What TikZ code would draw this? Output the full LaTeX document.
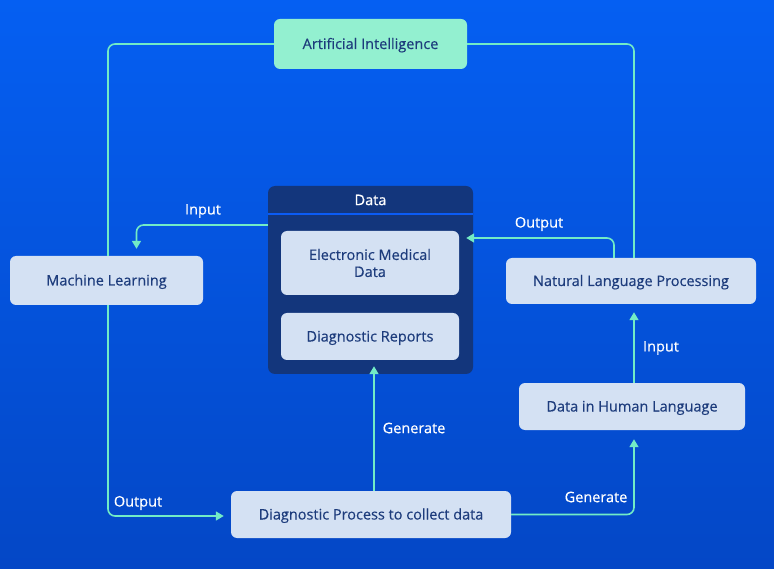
\documentclass[tikz,border=0pt]{standalone}
\usepackage{fontspec}
\setmainfont{Open Sans}[BoldFont={Open Sans}, BoldFeatures={FakeBold=0.35}]
\usetikzlibrary{positioning,arrows.meta,calc}

\definecolor{bgtop}{HTML}{055FF2}
\definecolor{bgbot}{HTML}{0447C6}
\definecolor{mint}{HTML}{72EBC6}
\definecolor{aifill}{HTML}{93F0D0}
\definecolor{boxfill}{HTML}{D4E1F3}
\definecolor{navy}{HTML}{13367C}
\definecolor{ink}{HTML}{1D3C7C}
\definecolor{sepblue}{HTML}{0B5CF5}

\tikzset{
  box/.style={rounded corners=6pt, fill=boxfill, text=ink, font=\fontsize{14.5}{17}\selectfont\bfseries, align=center},
  onel/.style={box, text height=12pt, text depth=2pt},
  link/.style={draw=mint, line width=1.6pt, rounded corners=7pt},
  arr/.style={link, -{Triangle[width=9pt,length=8pt]}, shorten >=7pt},
  lbl/.style={text=white, font=\fontsize{14.5}{17}\selectfont\bfseries}
}

\begin{document}
\begin{tikzpicture}[x=1pt,y=-1pt]
      \shade[top color=bgtop, bottom color=bgbot] (0,0) rectangle (774,569);
      \useasboundingbox (0,0) rectangle (774,569);

      % boxes
      \node[onel, fill=aifill, minimum width=193pt, minimum height=50pt] (ai) at (370.5,44) {Artificial Intelligence};
      \node[rounded corners=7pt, fill=navy, minimum width=205pt, minimum height=188pt] (data) at (370.5,280) {};
      \node[text=white, font=\fontsize{14.5}{17}\selectfont\bfseries] (datatitle) at (370.5,200) {Data};
      \draw[sepblue, line width=2pt] (data.west |- 0,214) -- (data.east |- 0,214);
      \node[box, minimum width=178pt, minimum height=64pt] (emd) at (370,263) {Electronic Medical\\Data};
      \node[onel, minimum width=178pt, minimum height=47pt] (dr) at (370,336.5) {Diagnostic Reports};
      \node[onel, minimum width=193pt, minimum height=49pt] (ml) at (106.5,280.5) {Machine Learning};
      \node[onel, minimum width=250pt, minimum height=46pt] (nlp) at (631,281) {Natural Language Processing};
      \node[onel, minimum width=226pt, minimum height=47pt] (dhl) at (632,406.5) {Data in Human Language};
      \node[onel, minimum width=280pt, minimum height=47pt] (dp) at (371,514.5) {Diagnostic Process to collect data};

      % connectors
      \draw[link] (ai.west) -| ([xshift=1.5pt]ml.north);
      \draw[link] (ai.east) -| ([xshift=3pt]nlp.north);
      \draw[arr] ([yshift=55pt]data.west) -| ([xshift=30pt]ml.north);
      \draw[arr] ([xshift=-17pt]nlp.north) |- ([yshift=25pt]emd.east);
      \draw[arr] ([xshift=1.5pt]ml.south) |- ([yshift=-1.5pt]dp.west);
      \draw[arr, shorten >=6pt] ([xshift=3pt]dp.north) -- ([xshift=4pt]dr.south);
      \draw[arr, shorten >=9pt] (dp.east) -| ([xshift=2pt]dhl.south);
      \draw[arr, shorten >=8pt] ([xshift=2pt]dhl.north) -- ([xshift=3pt]nlp.south);

      % labels
      \node[lbl] (lin) at (203,211) {Input};
      \node[lbl] (lout) at (539,224) {Output};
      \node[lbl] (mlout) at (138,503) {Output};
      \node[lbl] (gen) at (414,428) {Generate};
      \node[lbl] (gen2) at (596,497) {Generate};
      \node[lbl] (nin) at (661,348) {Input};
\end{tikzpicture}
\end{document}
